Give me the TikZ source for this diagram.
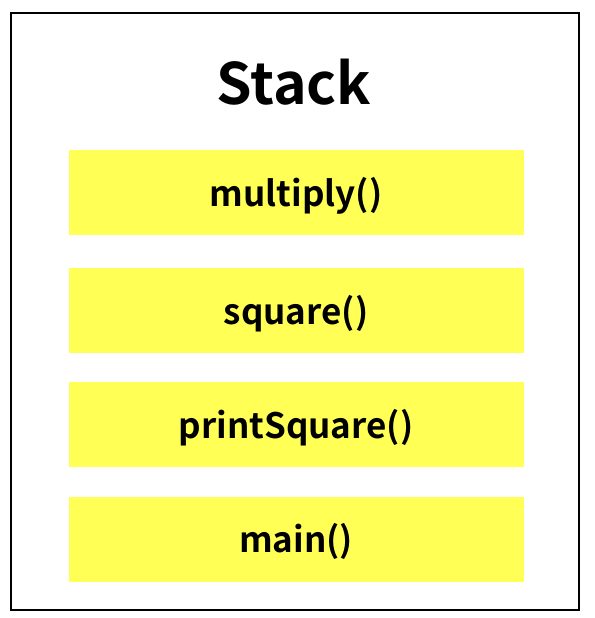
\documentclass[tikz,border=0pt]{standalone}
\usepackage{fontspec}
\setmainfont{Noto Sans CJK KR}[BoldFont={Noto Sans CJK KR Bold}]
\usetikzlibrary{positioning}
\definecolor{frameyellow}{RGB}{255,255,85}
\tikzstyle{frame} = [fill=frameyellow,minimum width=455pt,minimum height=85pt,inner sep=0pt,text depth=2pt,font=\fontsize{35}{40}\selectfont\bfseries]

\begin{document}
\begin{tikzpicture}[x=1pt,y=-1pt,node distance=29pt]
    \useasboundingbox (0,0) rectangle (594,618);
    \draw[line width=2pt] (11,13) rectangle (579,610);
    
    \node[font=\fontsize{57}{66}\selectfont\bfseries] (title) at (294,82) {Stack};
    
    \node[frame] (multiply) at (296,192.5) {multiply()};
    \node[frame] (square) at (296,310.5) {square()};
    \node[frame] (printsq) [below=of square] {printSquare()};
    \node[frame] (main) [below=of printsq] {main()};
    
\end{tikzpicture}
\end{document}
